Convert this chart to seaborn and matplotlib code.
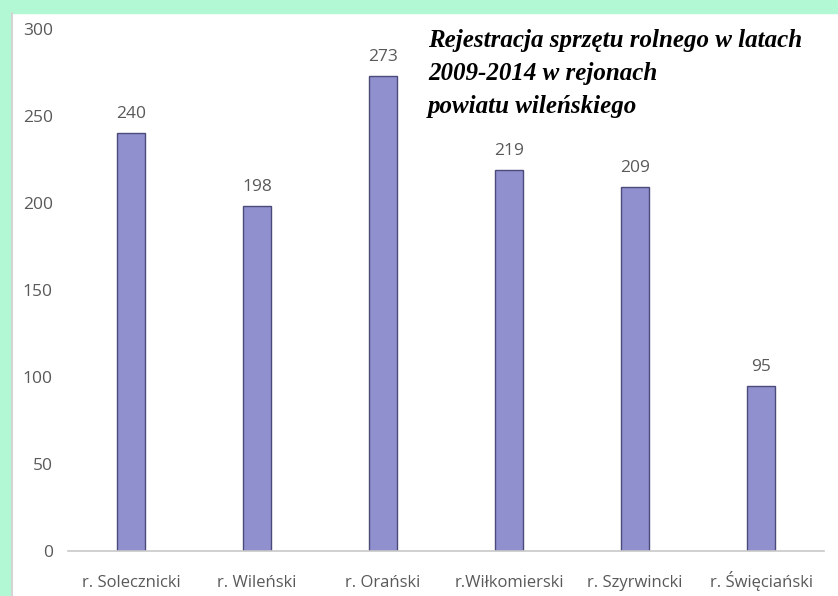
import matplotlib
matplotlib.use("Agg")
import matplotlib.pyplot as plt
import seaborn as sns
import pandas as pd
from matplotlib.patches import Rectangle
from matplotlib.lines import Line2D

categories = ["r. Solecznicki", "r. Wileński", "r. Orański", "r.Wiłkomierski", "r. Szyrwincki", "r. Święciański"]
values = [240, 198, 273, 219, 209, 95]
yticks = [0, 50, 100, 150, 200, 250, 300]
title_lines = ["Rejestracja sprzętu rolnego w latach", "2009-2014 w rejonach", "powiatu wileńskiego"]

sns.set_theme(style="white")
plt.rcParams["font.family"] = ["Open Sans", "DejaVu Sans"]

W, H = 838, 596
fig = plt.figure(figsize=(W / 100, H / 100), dpi=100)
fig.patch.set_facecolor("white")

# mint frame
mint = "#b3f8d5"
fig.patches.append(Rectangle((0, 1 - 13 / H), 1, 13 / H, transform=fig.transFigure, color=mint, zorder=0))
fig.patches.append(Rectangle((0, 0), 10 / W, 1, transform=fig.transFigure, color=mint, zorder=0))
fig.lines.append(Line2D([12 / W, 12 / W], [0, 1 - 13 / H], transform=fig.transFigure, color="#d4d4d4", lw=1.5))

ax = fig.add_axes([68 / W, 45 / H, (824 - 68) / W, (551 - 29) / H])
df = pd.DataFrame({"cat": categories, "val": values})
sns.barplot(data=df, x="cat", y="val", ax=ax, color="#9090cf", width=0.22,
            edgecolor="#4b4a7a", linewidth=1.0, saturation=1)

ax.set_ylim(0, 300)
ax.set_yticks(yticks)
ax.set_xlim(-0.5, len(categories) - 0.5)
ax.set_xlabel("")
ax.set_ylabel("")
for s in ["top", "right", "left"]:
    ax.spines[s].set_visible(False)
ax.spines["bottom"].set_color("#c8c8c8")
ax.spines["bottom"].set_linewidth(1.2)
ax.tick_params(axis="y", length=0, pad=11, labelsize=12.5, labelcolor="#595959")
ax.tick_params(axis="x", length=0, pad=26, labelsize=12, labelcolor="#595959")
for lab in ax.get_xticklabels():
    lab.set_verticalalignment("baseline")

for i, v in enumerate(values):
    ax.annotate(str(v), (i, v), xytext=(0, 8), textcoords="offset points",
                ha="center", va="bottom", fontsize=12.5, color="#595959")

for k, line in enumerate(title_lines):
    fig.text(428 / W, 1 - (47 + 33 * k) / H, line, ha="left", va="baseline",
             fontsize=18, fontweight="bold", fontstyle="italic",
             family=["Liberation Serif", "DejaVu Serif"], color="black")

fig.savefig("out.png", dpi=100)
